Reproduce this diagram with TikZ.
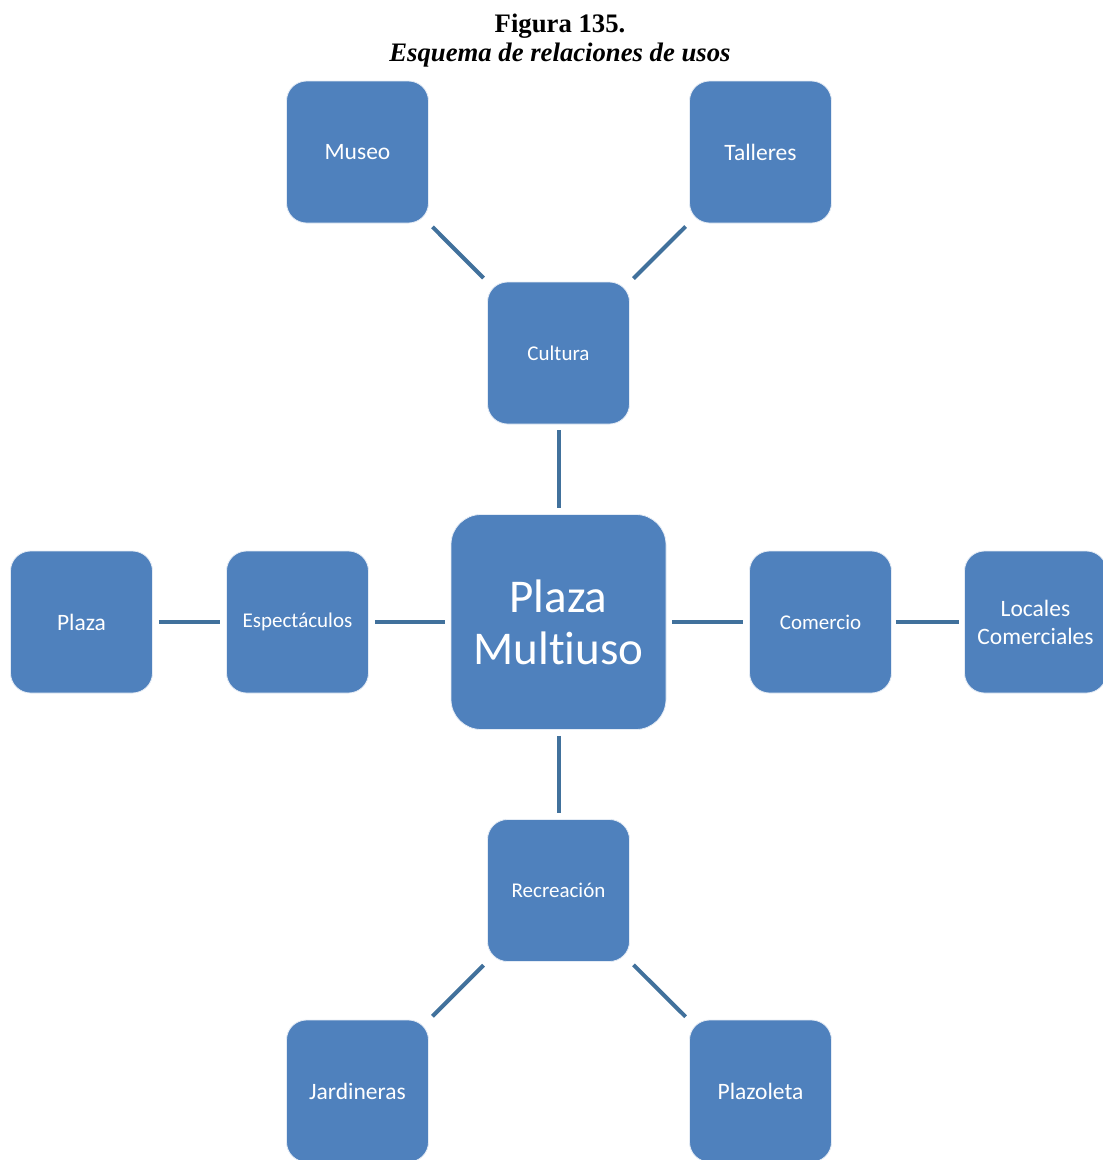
\documentclass[tikz,border=0pt]{standalone}
\usepackage{fontspec}
\setmainfont{Liberation Serif}
\newfontfamily\boxfont[Ligatures={NoCommon,NoRare},Contextuals=NoAlternate]{Carlito}
\definecolor{boxblue}{HTML}{4F81BD}
\definecolor{lineblue}{HTML}{41719C}
\begin{document}
\begin{tikzpicture}[x=1pt,y=-1pt,
  ubox/.style={rectangle, rounded corners=20pt, fill=boxblue, draw=white!85!boxblue, line width=0.8pt,
     minimum width=142pt, minimum height=142pt, inner sep=0pt, text=white, align=center},
  outer/.style={ubox, font=\boxfont\fontsize{23.5}{28}\selectfont},
  mid/.style={ubox, font=\boxfont\fontsize{21}{25}\selectfont},
  hub/.style={ubox, rounded corners=30pt, minimum width=215pt, minimum height=215pt,
     font=\boxfont\fontsize{47}{52}\selectfont},
  link/.style={draw=lineblue, line width=4pt, shorten <=5pt, shorten >=5pt}]
\useasboundingbox (0,0) rectangle (1103,1160);
\node[font=\bfseries\fontsize{26.7}{30}\selectfont, anchor=base] (t1) at (560,32) {Figura 135.};
\node[font=\bfseries\itshape\fontsize{26.7}{30}\selectfont, anchor=base] (t2) at (560,61) {Esquema de relaciones de usos};
\node[hub] (hub) at (558.5,622) {Plaza\\Multiuso};
\node[mid] (cul) at (558.5,353) {Cultura};
\node[mid] (rec) at (558.5,890.5) {Recreación};
\node[mid] (esp) at (297.5,622) {Espectáculos};
\node[mid] (com) at (820.5,622) {Comercio};
\node[outer] (mus) at (357.5,152) {Museo};
\node[outer] (tal) at (760.5,152) {Talleres};
\node[outer] (pla) at (81.5,622) {Plaza};
\node[outer] (loc) at (1035.5,622) {Locales\\Comerciales};
\node[outer] (jar) at (357.5,1091) {Jardineras};
\node[outer] (plz) at (760.5,1091) {Plazoleta};
\draw[link] (mus) -- (cul);
\draw[link] (tal) -- (cul);
\draw[link, shorten <=6pt, shorten >=6pt] (cul) -- (hub);
\draw[link, shorten <=6pt, shorten >=6pt] (hub) -- (rec);
\draw[link, shorten <=6pt, shorten >=6pt] (esp) -- (hub);
\draw[link, shorten <=6pt, shorten >=6pt] (hub) -- (com);
\draw[link, shorten <=6pt, shorten >=6pt] (pla) -- (esp);
\draw[link, shorten <=4pt, shorten >=5pt] (com) -- (loc);
\draw[link] (rec) -- (jar);
\draw[link] (rec) -- (plz);
\end{tikzpicture}
\end{document}
